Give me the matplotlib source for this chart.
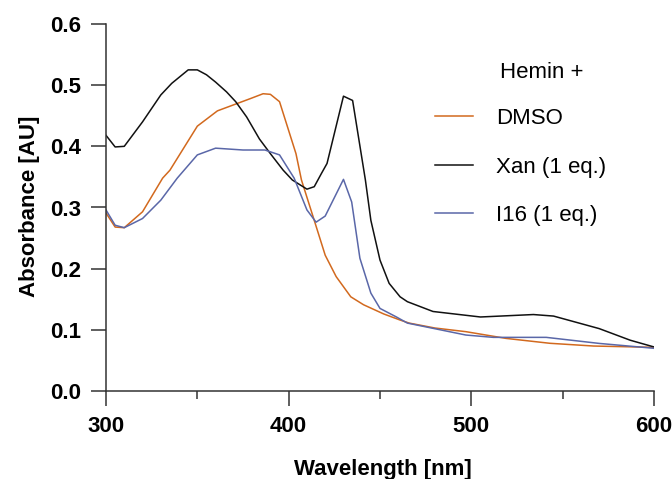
import matplotlib
matplotlib.use("Agg")
import matplotlib.pyplot as plt

plt.rcParams['font.family'] = ['Liberation Sans', 'DejaVu Sans']

# Data
xan_x = [300, 305, 310, 320, 330, 336, 345, 350, 355, 360, 366, 371, 377, 384, 390, 397, 402,
         410, 414, 418, 421, 430, 435, 442, 445, 450, 455, 461, 465, 479, 505, 534, 545, 570, 587, 600]
xan_y = [0.418, 0.399, 0.400, 0.440, 0.484, 0.503, 0.525, 0.525, 0.517, 0.505, 0.489, 0.473, 0.448,
         0.412, 0.388, 0.361, 0.345, 0.330, 0.334, 0.356, 0.372, 0.482, 0.475, 0.345, 0.279, 0.214,
         0.176, 0.154, 0.146, 0.130, 0.121, 0.125, 0.1225, 0.102, 0.083, 0.072]

dmso_x = [300, 305, 310, 320, 331, 335, 350, 361, 370, 379, 386, 390, 395, 404, 407, 414, 420,
          426, 434, 441, 452, 461, 466, 480, 497, 519, 543, 567, 600]
dmso_y = [0.291, 0.268, 0.267, 0.293, 0.348, 0.361, 0.433, 0.458, 0.468, 0.478, 0.486, 0.485,
          0.473, 0.388, 0.345, 0.279, 0.222, 0.187, 0.154, 0.141, 0.126, 0.116, 0.111, 0.103,
          0.097, 0.086, 0.078, 0.0735, 0.0714]

i16_x = [300, 305, 310, 320, 330, 339, 350, 360, 375, 387, 395, 403, 410, 415, 420, 430, 434.5,
         439, 445, 450, 459, 465, 497, 512, 541, 570, 600]
i16_y = [0.296, 0.271, 0.267, 0.282, 0.312, 0.348, 0.386, 0.397, 0.394, 0.394, 0.386, 0.348,
         0.296, 0.276, 0.286, 0.346, 0.309, 0.217, 0.160, 0.135, 0.121, 0.111, 0.0915, 0.0877,
         0.0877, 0.0778, 0.0698]

series_labels = ["DMSO", "Xan (1 eq.)", "I16 (1 eq.)"]
legend_title = "Hemin +"
x_ticks = [300, 400, 500, 600]
y_ticks = [0.0, 0.1, 0.2, 0.3, 0.4, 0.5, 0.6]

W, H = 672, 479
fig = plt.figure(figsize=(W / 100, H / 100), dpi=100)
ax = fig.add_axes([106 / W, 1 - 391 / H, (654 - 106) / W, (391 - 24) / H])

l1, = ax.plot(dmso_x, dmso_y, color='#D2691E', lw=1.1, label=series_labels[0])
l2, = ax.plot(xan_x, xan_y, color='#111111', lw=1.1, label=series_labels[1])
l3, = ax.plot(i16_x, i16_y, color='#5A67A8', lw=1.1, label=series_labels[2])

ax.set_xlim(300, 600)
ax.set_ylim(0, 0.6)
ax.set_xticks(x_ticks)
ax.set_xticks([350, 450, 550], minor=True)
ax.set_yticks(y_ticks)
ax.set_yticklabels([f"{v:.1f}" for v in y_ticks])

for s in ['top', 'right']:
    ax.spines[s].set_visible(False)
for s in ['left', 'bottom']:
    ax.spines[s].set_color('#333333')
    ax.spines[s].set_linewidth(1.1)

ax.tick_params(axis='both', which='major', direction='out', length=11, width=1.1,
               color='#333333', labelsize=16)
ax.tick_params(axis='x', which='minor', direction='out', length=6, width=1.1, color='#333333')
ax.tick_params(axis='x', which='major', pad=7)
ax.tick_params(axis='y', which='major', pad=7)
for lab in ax.get_xticklabels() + ax.get_yticklabels():
    lab.set_fontweight('bold')

ax.set_xlabel("Wavelength [nm]", fontsize=16, fontweight='bold')
ax.set_ylabel("Absorbance [AU]", fontsize=16, fontweight='bold')
ax.xaxis.set_label_coords(0.506, (391 - 459.5) / 367)
ax.yaxis.set_label_coords((40 - 106) / 548, (391 - 206.5) / 367)

leg = ax.legend(handles=[l1, l2, l3], loc='upper left', bbox_to_anchor=(435 / W, 1 - 108 / H),
                bbox_transform=fig.transFigure, frameon=False, fontsize=16, borderpad=0,
                borderaxespad=0, handlelength=1.71, handletextpad=1.04, labelspacing=1.24)
fig.text(500 / W, 1 - 78 / H, legend_title, fontsize=16, ha='left', va='baseline')

fig.savefig("out.png", dpi=100)
